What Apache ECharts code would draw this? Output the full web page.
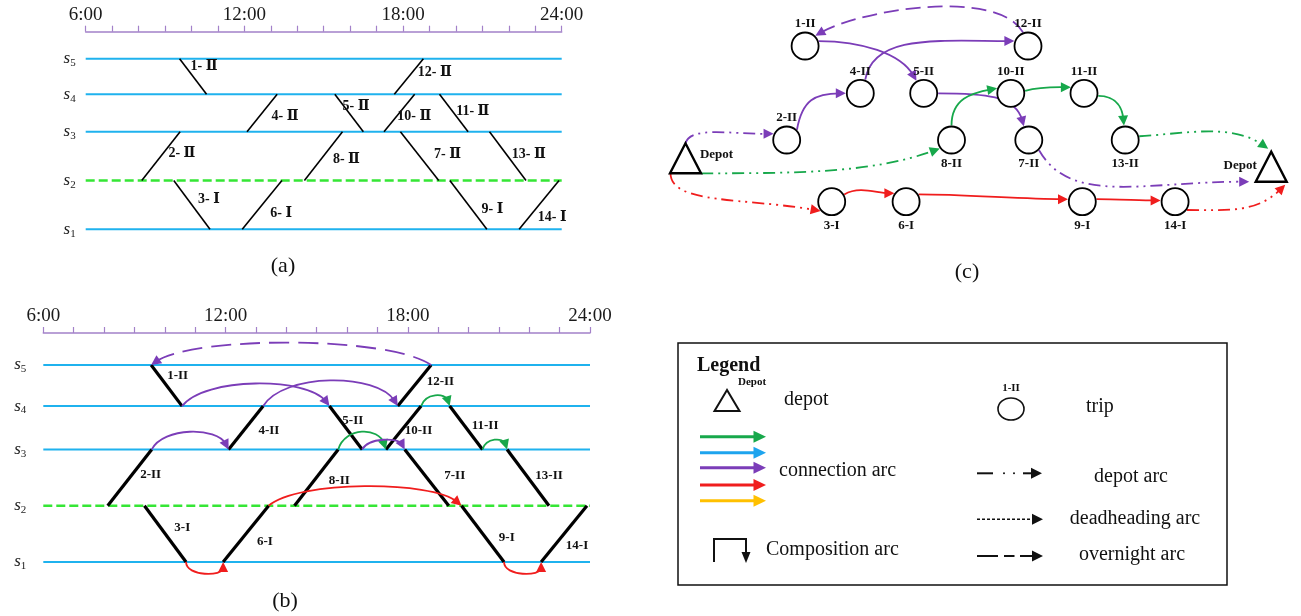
<!DOCTYPE html>
<html>
<head>
<meta charset="utf-8">
<title>Trip scheduling diagram</title>
<script src="https://cdn.jsdelivr.net/npm/echarts@6.0.0/dist/echarts.min.js"></script>
<style>
html,body{margin:0;padding:0;background:#ffffff;}
#chart{width:1301px;height:616px;}
</style>
</head>
<body>
<div id="chart"></div>
<script>
// ================= DATA =================
const timeTickValues = [6, 12, 18, 24];
const timeTickLabels = ['6:00', '12:00', '18:00', '24:00'];
const stationNames = ['1', '2', '3', '4', '5'];
const stationLevel = [0, 1, 2, 2.77, 3.5];

const tripNames  = ['1-II','2-II','3-I','4-II','5-II','6-I','7-II','8-II','9-I','10-II','11-II','12-II','13-II','14-I'];
const tripFrom   = [5, 2, 2, 3, 4, 1, 3, 2, 2, 3, 4, 4, 3, 1];
const tripTo     = [4, 3, 1, 4, 3, 2, 2, 3, 1, 4, 3, 5, 2, 2];
const tripDepart = [9.55, 8.12, 9.33, 12.10, 15.42, 11.92, 17.90, 14.27, 19.77, 17.28, 19.38, 17.67, 21.27, 22.39];
const tripArrive = [10.57, 9.57, 10.70, 13.24, 16.50, 13.42, 19.35, 15.71, 21.17, 18.44, 20.46, 18.77, 22.65, 23.90];

// panel (b) arcs: end of one trip -> start of next trip
const arcFrom    = ['12-II','1-II','4-II','2-II','8-II','5-II','10-II','11-II','6-I','3-I','9-I'];
const arcTo      = ['1-II','5-II','12-II','4-II','10-II','7-II','11-II','13-II','9-I','6-I','14-I'];
const arcKind    = ['overnight','connection','connection','connection','connection','connection','connection','connection','connection','composition','composition'];
const arcVehicle = ['P','P','P','P','G','P','G','G','R','R','R'];

// panel (c) network
const edgeFrom    = ['DL','2-II','4-II','12-II','1-II','5-II','7-II','DL','8-II','10-II','11-II','13-II','DL','3-I','6-I','9-I','14-I'];
const edgeTo      = ['2-II','4-II','12-II','1-II','5-II','7-II','DR','8-II','10-II','11-II','13-II','DR','3-I','6-I','9-I','14-I','DR'];
const edgeKind    = ['depot','connection','connection','overnight','connection','connection','depot','depot','connection','connection','connection','depot','depot','connection','connection','connection','depot'];
const edgeVehicle = ['P','P','P','P','P','P','P','G','G','G','G','G','R','R','R','R','R'];

// ================= LAYOUT / STYLE =================
const COL = {P:'#7b3db8', G:'#17a84b', R:'#f01d1d', B:'#1da4ee', Y:'#ffc000'};
const SERIF = '"Liberation Serif", "DejaVu Serif", "Times New Roman", serif';
const AXIS_PURPLE = '#a381c9';
const STATION_BLUE = '#1fb2ee';
const STATION_GREEN = '#35e635';

const tripLabelOffset = [[11,-10],[21,-3],[17,-6],[23,3],[7,-7],[19,8],[28,-2],[23,3],[24,4],[15,3],[19,-2],[26,-4],[21,-2],[13,12]];
const arcRise = [22,22,25,17,17,9,10,9,19,11,11];

// diagram layout for (c) (layout units of a hidden plane)
const nodeLayout = {
  '1-II':[14.51,4.6], '12-II':[36.8,4.6],
  '4-II':[20.03,9.33], '5-II':[26.37,9.33], '10-II':[35.08,9.33], '11-II':[42.4,9.33],
  '2-II':[12.67,14.0], '8-II':[29.15,14.0], '7-II':[36.88,14.0], '13-II':[46.52,14.0],
  '3-I':[17.17,20.17], '6-I':[24.61,20.17], '9-I':[42.23,20.17], '14-I':[51.51,20.17],
  'DL':[2.55,16.33], 'DR':[61.12,17.17]
};
const nodeLabelBelow = {'8-II':1,'7-II':1,'13-II':1,'3-I':1,'6-I':1,'9-I':1,'14-I':1};
const triPorts = {apex:[0,-20], apexl:[-3,-23], bl:[-15,10], br:[15.5,10], blx:[-22,10], brb:[14,13]};
const edgeRoute = [
  ['apex', -75, -155, 0, 0.2, 0.5],
  [-45, -80, 180, 0, 0.5, 0.5],
  [-70, -80, -160, 0, 0.3, 0.5],
  [-110, -120, -45, 150, 0.25, 0.25],
  [-20, 0, -120, 60, 0.4, 0.3],
  [0, 0, -110, 75, 0.5, 0.35],
  [45, 60, 'blx', 0, 0.3, 0.5],
  ['br', 0, 144, -20, 0.4, 0.3],
  [-90, -90, -160, -10, 0.45, 0.45],
  [-10, -15, -155, 0, 0.35, 0.35],
  [10, 0, -95, 85, 0.5, 0.4],
  [-15, -3, 'apexl', 35, 0.35, 0.35],
  ['bl', 90, 140, 10, 0.2, 0.5],
  [-30, -30, -144, 0, 0.35, 0.35],
  [-30, 0, -170, 0, 0.3, 0.3],
  [-10, 0, -175, 0, 0.3, 0.3],
  [35, 0, 'brb', -45, 0.4, 0.4]
];

// ================= HELPERS =================
const tripIndex = {};
tripNames.forEach((n, i) => tripIndex[n] = i);
const lvl = s => stationLevel[s - 1];
const romanA = n => n.replace(/-II$/, '- \u2161').replace(/-I$/, '- \u2160');

function unit(dx, dy){ const l = Math.hypot(dx, dy) || 1; return [dx / l, dy / l]; }
function dirDeg(d){ const a = d * Math.PI / 180; return [Math.cos(a), Math.sin(a)]; }
function arrowPoly(tip, dir, len, half, color){
  const bx = tip[0] - dir[0] * len, by = tip[1] - dir[1] * len;
  return {type:'polygon', shape:{points:[[tip[0], tip[1]], [bx - dir[1] * half, by + dir[0] * half], [bx + dir[1] * half, by - dir[0] * half]]},
          style:{fill:color, stroke:'none'}};
}
function curveArrow(p1, cp1, cp2, p2, color, width, dash, alen, ahalf){
  const dir = unit(p2[0] - cp2[0], p2[1] - cp2[1]);
  const end = [p2[0] - dir[0] * alen * 0.6, p2[1] - dir[1] * alen * 0.6];
  const st = {stroke:color, lineWidth:width, fill:'none'};
  if (dash) st.lineDash = dash;
  return [
    {type:'bezierCurve', shape:{x1:p1[0], y1:p1[1], cpx1:cp1[0], cpy1:cp1[1], cpx2:cp2[0], cpy2:cp2[1], x2:end[0], y2:end[1]}, style:st},
    arrowPoly(p2, dir, alen, ahalf, color)
  ];
}

// ================= RENDERERS =================
function renderStation(params, api){
  const i = api.value(4);
  const a = api.coord([api.value(0), api.value(1)]), b = api.coord([api.value(2), api.value(3)]);
  const dashed = i === 1;
  const st = {stroke: dashed ? STATION_GREEN : STATION_BLUE, lineWidth: dashed ? 2.4 : 2};
  if (dashed) st.lineDash = [9, 4];
  return {type:'line', shape:{x1:a[0], y1:a[1], x2:b[0], y2:b[1]}, style:st};
}
function tripRenderer(panel){
  return function(params, api){
    const i = api.value(4);
    const a = api.coord([api.value(0), api.value(1)]), b = api.coord([api.value(2), api.value(3)]);
    const off = tripLabelOffset[i];
    const m = [(a[0] + b[0]) / 2 + off[0], (a[1] + b[1]) / 2 + off[1]];
    return {type:'group', children:[
      {type:'line', shape:{x1:a[0], y1:a[1], x2:b[0], y2:b[1]}, style:{stroke:'#000', lineWidth: panel === 'a' ? 1.6 : 3.2}},
      {type:'text', style:{text: panel === 'a' ? romanA(tripNames[i]) : tripNames[i], x:m[0], y:m[1], align:'center', verticalAlign:'middle',
        font: (panel === 'a' ? 'bold 14px ' : 'bold 13px ') + SERIF, fill:'#111'}}
    ]};
  };
}
function renderArc(params, api){
  const i = api.value(4);
  const p1 = api.coord([api.value(0), api.value(1)]), p2 = api.coord([api.value(2), api.value(3)]);
  const kind = arcKind[i], color = COL[arcVehicle[i]], h = arcRise[i];
  const w = p2[0] - p1[0];
  const sgn = kind === 'composition' ? 1 : -1;
  const a = kind === 'composition' ? 0 : 0.15;
  const cp1 = [p1[0] + a * w, p1[1] + sgn * h * 4 / 3];
  const cp2 = [p2[0] - a * w, p2[1] + sgn * h * 4 / 3];
  const dash = kind === 'overnight' ? [20, 9] : null;
  return {type:'group', children: curveArrow(p1, cp1, cp2, p2, color, 1.8, dash, 10, 5)};
}
function portPoint(id, spec, c){
  if (id === 'DL' || id === 'DR') { const o = triPorts[spec]; return [c[0] + o[0], c[1] + o[1]]; }
  const r = 14.5, d = dirDeg(spec);
  return [c[0] + r * d[0], c[1] + r * d[1]];
}
function renderEdge(params, api){
  const i = api.value(4);
  const c1 = api.coord([api.value(0), api.value(1)]), c2 = api.coord([api.value(2), api.value(3)]);
  const r = edgeRoute[i];
  const p1 = portPoint(edgeFrom[i], r[0], c1), p2 = portPoint(edgeTo[i], r[2], c2);
  const d = Math.hypot(p2[0] - p1[0], p2[1] - p1[1]);
  const t1 = dirDeg(r[1]), t2 = dirDeg(r[3]);
  const cp1 = [p1[0] + t1[0] * r[4] * d, p1[1] + t1[1] * r[4] * d];
  const cp2 = [p2[0] - t2[0] * r[5] * d, p2[1] - t2[1] * r[5] * d];
  const kind = edgeKind[i];
  const dash = kind === 'depot' ? [12, 5, 2, 5, 2, 5] : (kind === 'overnight' ? [15, 7] : null);
  return {type:'group', children: curveArrow(p1, cp1, cp2, p2, COL[edgeVehicle[i]], 1.8, dash, 10, 5)};
}
const nodeIds = Object.keys(nodeLayout);
function renderNode(params, api){
  const id = nodeIds[api.value(2)];
  const c = api.coord([api.value(0), api.value(1)]);
  if (id === 'DL' || id === 'DR') {
    const lab = id === 'DL' ? [c[0] + 31, c[1] - 9] : [c[0] - 31, c[1] - 6];
    return {type:'group', children:[
      {type:'polygon', shape:{points:[[c[0], c[1] - 20], [c[0] - 15.5, c[1] + 10], [c[0] + 15.5, c[1] + 10]]}, style:{fill:'#fff', stroke:'#000', lineWidth:2.4}},
      {type:'text', style:{text:'Depot', x:lab[0], y:lab[1], align:'center', verticalAlign:'middle', font:'bold 13px ' + SERIF, fill:'#111'}}
    ]};
  }
  const below = !!nodeLabelBelow[id];
  return {type:'group', children:[
    {type:'circle', shape:{cx:c[0], cy:c[1], r:13.5}, style:{fill:'#fff', stroke:'#000', lineWidth:1.8}},
    {type:'text', style:{text:id, x:c[0], y:c[1] + (below ? 24 : -22), align:'center', verticalAlign:'middle', font:'bold 13px ' + SERIF, fill:'#111'}}
  ]};
}

// ================= SERIES DATA =================
const stationRows = stationLevel.map((l, i) => [6, l, 24, l, i]);
const tripRows = tripNames.map((n, i) => [tripDepart[i], lvl(tripFrom[i]), tripArrive[i], lvl(tripTo[i]), i]);
const arcRows = arcFrom.map((f, i) => {
  const a = tripIndex[f], b = tripIndex[arcTo[i]];
  return [tripArrive[a], lvl(tripTo[a]), tripDepart[b], lvl(tripFrom[b]), i];
});
const edgeRows = edgeFrom.map((f, i) => [nodeLayout[f][0], nodeLayout[f][1], nodeLayout[edgeTo[i]][0], nodeLayout[edgeTo[i]][1], i]);
const nodeRows = nodeIds.map((id, i) => [nodeLayout[id][0], nodeLayout[id][1], i]);

// ================= AXES =================
function timeAxis(gi, offset){
  return {type:'value', gridIndex:gi, position:'top', offset:offset, min:6, max:24, interval:1,
    axisLine:{show:true, onZero:false, lineStyle:{color:AXIS_PURPLE, width:1.5}},
    axisTick:{show:true, length:6, lineStyle:{color:AXIS_PURPLE, width:1.2}},
    axisLabel:{customValues:timeTickValues, formatter:v => timeTickLabels[timeTickValues.indexOf(v)] || '',
      margin:7, color:'#1a1a1a', fontFamily:SERIF, fontSize:19},
    splitLine:{show:false}};
}
function stationAxis(gi, margin){
  return {type:'value', gridIndex:gi, min:0, max:3.5,
    axisLine:{show:false, onZero:false}, axisTick:{show:false}, splitLine:{show:false},
    axisLabel:{customValues:stationLevel, margin:margin,
      formatter:v => { let k = 0; stationLevel.forEach((l, i) => { if (Math.abs(l - v) < 1e-6) k = i; }); return '{s|s}{n|' + stationNames[k] + '}'; },
      rich:{s:{fontFamily:SERIF, fontStyle:'italic', fontSize:17, color:'#222', lineHeight:20},
            n:{fontFamily:SERIF, fontSize:11, color:'#222', verticalAlign:'bottom', lineHeight:11}}}};
}

// ================= LEGEND (graphic) =================
function legendGraphics(){
  const g = [];
  const txt = (t, x, y, font, align) => ({type:'text', silent:true, style:{text:t, x:x, y:y, font:font, fill:'#111', align:align || 'left', verticalAlign:'middle'}});
  g.push({type:'rect', shape:{x:678, y:343, width:549, height:242}, style:{fill:'none', stroke:'#111', lineWidth:1.5}});
  g.push(txt('Legend', 697, 366, 'bold 20px ' + SERIF));
  g.push({type:'polygon', shape:{points:[[727, 390], [714.5, 411], [739.5, 411]]}, style:{fill:'none', stroke:'#111', lineWidth:2}});
  g.push(txt('Depot', 738, 382, 'bold 11px ' + SERIF));
  g.push(txt('depot', 784, 400, '20px ' + SERIF));
  g.push(txt('1-II', 1011, 388, 'bold 11px ' + SERIF, 'center'));
  g.push({type:'ellipse', shape:{cx:1011, cy:409, rx:13, ry:11}, style:{fill:'#fff', stroke:'#111', lineWidth:1.6}});
  g.push(txt('trip', 1086, 407, '20px ' + SERIF));
  const arrowY = [436.7, 452.7, 467.7, 485, 500.7];
  ['G', 'B', 'P', 'R', 'Y'].forEach((k, i) => {
    g.push({type:'line', shape:{x1:700, y1:arrowY[i], x2:756, y2:arrowY[i]}, style:{stroke:COL[k], lineWidth:3}});
    g.push({type:'polygon', shape:{points:[[766, arrowY[i]], [753.5, arrowY[i] - 6], [753.5, arrowY[i] + 6]]}, style:{fill:COL[k]}});
  });
  g.push(txt('connection arc', 779, 471, '20px ' + SERIF));
  const blackHead = (x, y) => ({type:'polygon', shape:{points:[[x, y], [x - 11, y - 5.5], [x - 11, y + 5.5]]}, style:{fill:'#111'}});
  // depot arc
  g.push({type:'line', shape:{x1:977, y1:473.3, x2:993, y2:473.3}, style:{stroke:'#111', lineWidth:2}});
  g.push({type:'circle', shape:{cx:1004, cy:473.3, r:1}, style:{fill:'#111'}});
  g.push({type:'circle', shape:{cx:1014, cy:473.3, r:1}, style:{fill:'#111'}});
  g.push({type:'line', shape:{x1:1023, y1:473.3, x2:1033, y2:473.3}, style:{stroke:'#111', lineWidth:2}});
  g.push(blackHead(1042, 473.3));
  g.push(txt('depot arc', 1131, 477, '20px ' + SERIF, 'center'));
  // deadheading arc
  g.push({type:'line', shape:{x1:977, y1:519.3, x2:1033, y2:519.3}, style:{stroke:'#111', lineWidth:1.6, lineDash:[3, 2]}});
  g.push(blackHead(1043, 519.3));
  g.push(txt('deadheading arc', 1135, 518.5, '20px ' + SERIF, 'center'));
  // overnight arc
  g.push({type:'line', shape:{x1:977, y1:556, x2:998, y2:556}, style:{stroke:'#111', lineWidth:2}});
  g.push({type:'line', shape:{x1:1004, y1:556, x2:1014.5, y2:556}, style:{stroke:'#111', lineWidth:2}});
  g.push({type:'line', shape:{x1:1020, y1:556, x2:1034, y2:556}, style:{stroke:'#111', lineWidth:2}});
  g.push(blackHead(1043, 556));
  g.push(txt('overnight arc', 1132, 555, '20px ' + SERIF, 'center'));
  // composition arc
  g.push({type:'polyline', shape:{points:[[714, 562], [714, 539], [746, 539], [746, 554]]}, style:{stroke:'#111', lineWidth:2, fill:'none'}});
  g.push({type:'polygon', shape:{points:[[746, 563], [741.5, 552], [750.5, 552]]}, style:{fill:'#111'}});
  g.push(txt('Composition arc', 766, 550, '20px ' + SERIF));
  // panel captions
  g.push(txt('(a)', 283, 266, '22px ' + SERIF, 'center'));
  g.push(txt('(b)', 285, 601, '22px ' + SERIF, 'center'));
  g.push(txt('(c)', 967, 272, '22px ' + SERIF, 'center'));
  return g;
}

// ================= OPTION =================
const chart = echarts.init(document.getElementById('chart'));
const option = {
  animation:false,
  backgroundColor:'#ffffff',
  grid:[
    {left:85.7, top:58.7, width:476, height:170.6, outerBoundsMode:'none'},
    {left:43.3, top:365, width:546.7, height:197, outerBoundsMode:'none'},
    {left:660, top:0, width:641, height:300, outerBoundsMode:'none'}
  ],
  xAxis:[
    timeAxis(0, 27),
    timeAxis(1, 32),
    {type:'value', gridIndex:2, min:0, max:64.1, show:false}
  ],
  yAxis:[
    stationAxis(0, 10),
    stationAxis(1, 17),
    {type:'value', gridIndex:2, min:0, max:30, inverse:true, show:false}
  ],
  series:[
    {type:'custom', name:'stations (a)', xAxisIndex:0, yAxisIndex:0, silent:true, renderItem:renderStation, encode:{x:[0,2], y:[1,3]}, data:stationRows},
    {type:'custom', name:'trips (a)', xAxisIndex:0, yAxisIndex:0, silent:true, renderItem:tripRenderer('a'), encode:{x:[0,2], y:[1,3]}, data:tripRows},
    {type:'custom', name:'stations (b)', xAxisIndex:1, yAxisIndex:1, silent:true, renderItem:renderStation, encode:{x:[0,2], y:[1,3]}, data:stationRows},
    {type:'custom', name:'trips (b)', xAxisIndex:1, yAxisIndex:1, silent:true, renderItem:tripRenderer('b'), encode:{x:[0,2], y:[1,3]}, data:tripRows},
    {type:'custom', name:'arcs (b)', xAxisIndex:1, yAxisIndex:1, silent:true, renderItem:renderArc, encode:{x:[0,2], y:[1,3]}, data:arcRows},
    {type:'custom', name:'edges (c)', xAxisIndex:2, yAxisIndex:2, silent:true, renderItem:renderEdge, encode:{x:[0,2], y:[1,3]}, data:edgeRows},
    {type:'custom', name:'nodes (c)', xAxisIndex:2, yAxisIndex:2, silent:true, renderItem:renderNode, encode:{x:0, y:1}, data:nodeRows}
  ],
  graphic:legendGraphics()
};
chart.setOption(option);
</script>
</body>
</html>
